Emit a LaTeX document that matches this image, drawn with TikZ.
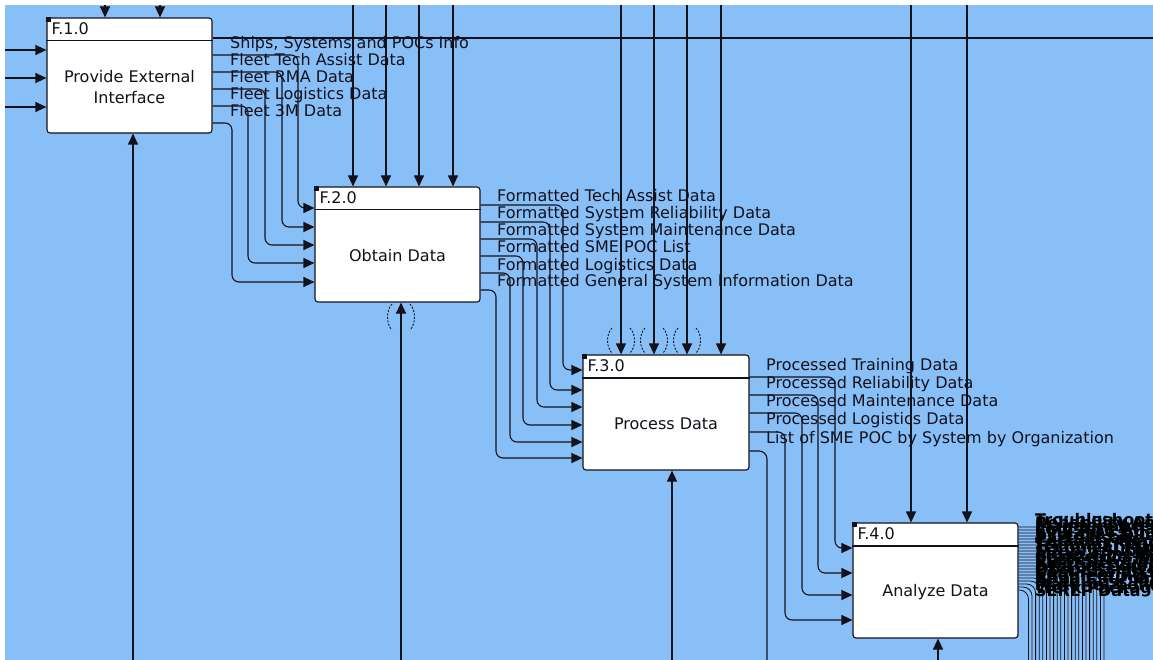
\documentclass[tikz,border=0pt]{standalone}
\usepackage{fontspec}
\setmainfont{DejaVu Sans}
\usetikzlibrary{arrows.meta}
\definecolor{bg}{RGB}{137,191,247}
\definecolor{ink}{RGB}{18,18,28}
\begin{document}
\begin{tikzpicture}[x=1pt,y=-1pt,
  box/.style={draw=ink, line width=1.1pt, fill=white, rounded corners=3pt,
    minimum width=165pt, minimum height=115pt, inner sep=0pt},
  ln/.style={draw=ink, line width=1.1pt},
  arr/.style={ln, -{Triangle[length=11pt,width=10pt]}, rounded corners=7pt},
  lab/.style={anchor=base west, inner sep=0pt, text=ink, font=\fontsize{16}{19}\selectfont},
  blob/.style={anchor=base west, inner sep=0pt, text=black, font=\bfseries\fontsize{16}{19}\selectfont},
  body/.style={anchor=center, align=center, inner sep=0pt, text=ink, font=\fontsize{16}{21}\selectfont},
  paren/.style={draw=ink, line width=0.9pt, dash pattern=on 2pt off 1.5pt},
  thinout/.style={draw=ink, line width=0.8pt, rounded corners=9pt}]
\useasboundingbox (0,0) rectangle (1153,660);
\fill[white] (0,0) rectangle (1153,660);
\fill[bg] (5,5) rectangle (1153,660);

% boxes
\node[box] (b1) at (129.5,75.5) {};
\node[box] (b2) at (397.5,244.5) {};
\node[box, minimum width=166pt] (b3) at (666,412.5) {};
\node[box] (b4) at (935.5,580.5) {};
\foreach \b/\n in {b1/1, b2/2, b3/3, b4/4} {
  \draw[ln] ([yshift=-23.5pt]\b.north west) -- ([yshift=-23.5pt]\b.north east);
  \fill[ink] (\b.north west) rectangle ++(5pt,-5pt);
  \node[lab] (t\n) at ([shift={(5pt,-17.5pt)}]\b.north west) {F.\n.0};
}
\node[body] (n1) at ([yshift=-12pt]b1.center) {Provide External\\Interface};
\node[body] (n2) at ([yshift=-11.5pt]b2.center) {Obtain Data};
\node[body] (n3) at ([yshift=-11.5pt]b3.center) {Process Data};
\node[body] (n4) at ([yshift=-11.5pt]b4.center) {Analyze Data};

% F.1.0 inputs, controls, mechanism
\foreach \y in {50,78,107} { \draw[arr] (5,\y) -- (b1.west |- 0,\y); }
\foreach \x in {105,160} { \draw[arr] (\x,5) -- (b1.north -| \x,0); }
\draw[arr] (133,660) -- (b1.south -| 133,0);

% F.1.0 outputs
\coordinate (eR) at (1153,38);
\draw[ln] (b1.east |- eR) -- (eR);
\foreach \yo/\xv/\yi in {55/298/208, 72/282/227, 89/265/245, 106/248/263, 123/232/282} {
  \draw[arr] (b1.east |- 0,\yo) -- (\xv,\yo) -- (\xv,\yi) -- (b2.west |- 0,\yi);
}

% F.2.0 controls and mechanism
\foreach \x in {353,386,419,453} { \draw[arr] (\x,5) -- (b2.north -| \x,0); }
\draw[arr] (401,660) -- (b2.south -| 401,0);
\draw[paren] (392,304) .. controls (386,310) and (386,324) .. (392,330);
\draw[paren] (410,304) .. controls (416,310) and (416,324) .. (410,330);

% F.2.0 outputs
\foreach \yo/\xv/\yi in {205/563/370, 222/550/390, 239/537/407, 256/523/425, 273/510/442, 290/496/458} {
  \draw[arr] (b2.east |- 0,\yo) -- (\xv,\yo) -- (\xv,\yi) -- (b3.west |- 0,\yi);
}

% F.3.0 controls and mechanism
\foreach \x in {621,654,687,721} { \draw[arr] (\x,5) -- (b3.north -| \x,0); }
\foreach \x in {621,654,687} {
  \draw[paren] (\x-9,328) .. controls (\x-15,334) and (\x-15,347) .. (\x-9,353);
  \draw[paren] (\x+9,328) .. controls (\x+15,334) and (\x+15,347) .. (\x+9,353);
}
\draw[arr] (672,660) -- (b3.south -| 672,0);

% F.3.0 outputs
\foreach \yo/\xv/\yi in {377/835/548, 395/818/573, 413/802/595, 432/785/620} {
  \draw[arr] (b3.east |- 0,\yo) -- (\xv,\yo) -- (\xv,\yi) -- (b4.west |- 0,\yi);
}
\coordinate (eB) at (767,660);
\draw[ln, rounded corners=8pt] (b3.east |- 0,451) -- (767,451) -- (eB);

% F.4.0 controls and mechanism
\foreach \x in {911,967} { \draw[arr] (\x,5) -- (b4.north -| \x,0); }
\draw[arr] (938,660) -- (b4.south -| 938,0);

% F.4.0 outputs (dense bundle)
\foreach \i in {0,...,21} {
  \pgfmathsetmacro\yy{527+3*\i}
  \pgfmathsetmacro\xx{1104-3.6*\i}
  \draw[thinout] (b4.east |- 0,\yy) -- (\xx,\yy) -- (\xx,660);
}

% labels
\node[lab] (o11) at (230,49) {Ships, Systems and POCs Info};
\node[lab] (o12) at (230,66) {Fleet Tech Assist Data};
\node[lab] (o13) at (230,83) {Fleet RMA Data};
\node[lab] (o14) at (230,100) {Fleet Logistics Data};
\node[lab] (o15) at (230,117) {Fleet 3M Data};

\node[lab] (o21) at (497,202) {Formatted Tech Assist Data};
\node[lab] (o22) at (497,219) {Formatted System Reliability Data};
\node[lab] (o23) at (497,236) {Formatted System Maintenance Data};
\node[lab] (o24) at (497,253) {Formatted SME POC List};
\node[lab] (o25) at (497,270) {Formatted Logistics Data};
\node[lab] (o26) at (497,287) {Formatted General System Information Data};

\node[lab] (o31) at (766,370) {Processed Training Data};
\node[lab] (o32) at (766,388) {Processed Reliability Data};
\node[lab] (o33) at (766,406) {Processed Maintenance Data};
\node[lab] (o34) at (766,424) {Processed Logistics Data};
\node[lab] (o35) at (766,443) {List of SME POC by System by Organization};

\begin{scope}
\clip (1018,500) rectangle (1153,620);
\foreach \t [count=\k from 0] in {Troubleshooting Guide Data, Reliability Analysis Results,
  Maintenance Trend Analysis, Logistics Analysis Results, SME POC Analysis,
  System Failure Rate Data, Parts Usage Analysis, Casualty Report Analysis,
  Training Requirements Data, Technical Manual Deficiencies, Supply Support Analysis,
  Mean Time Between Failures, Corrective Maintenance Data, Preventive Maintenance Data,
  Fleet Readiness Assessment, System Configuration Data, Obsolescence Analysis,
  Cost Analysis Results, Engineering Change Data, Repair Turnaround Data,
  Readiness Metrics, Material Condition Data, Work Package Data, SEREP Data} {
  \pgfmathsetmacro\yb{525+3.1*\k}
  \node[blob] (o4\k) at (1035,\yb) {\t};
}
\end{scope}
\end{tikzpicture}
\end{document}
